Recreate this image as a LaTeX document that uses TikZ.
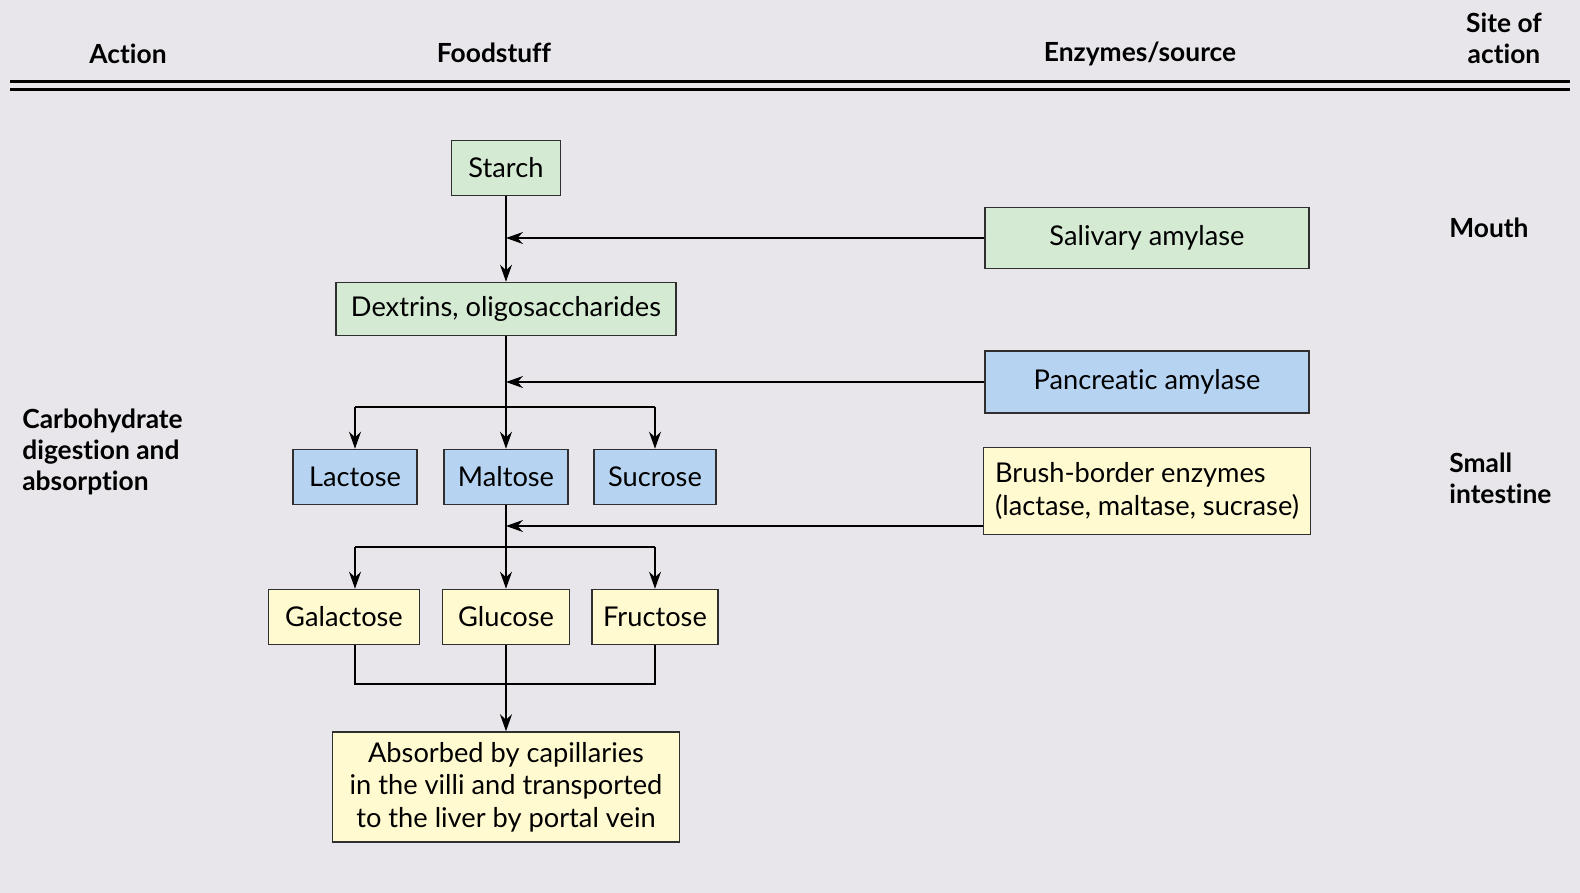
\documentclass[tikz,border=0pt]{standalone}
\usepackage{fontspec}
\setmainfont[Ligatures=NoCommon]{Lato}
\usepackage{tikz}
\usetikzlibrary{arrows.meta,positioning,calc}
\definecolor{pagegrey}{HTML}{E8E6EA}
\definecolor{boxgreen}{HTML}{D5EAD3}
\definecolor{boxblue}{HTML}{B6D3F1}
\definecolor{boxyellow}{HTML}{FFFACF}
\definecolor{edgegrey}{HTML}{2F2F2F}

\begin{document}
\begin{tikzpicture}[x=0.02cm,y=-0.02cm,
    foodbox/.style={draw=edgegrey,line width=0.9pt,inner sep=2pt,
                    font=\fontsize{15.5}{18.5}\selectfont,minimum height=1.10cm},
    greenbox/.style={foodbox,fill=boxgreen},
    bluebox/.style={foodbox,fill=boxblue},
    yellowbox/.style={foodbox,fill=boxyellow},
    headtext/.style={font=\fontsize{15}{17.5}\selectfont\bfseries,align=center},
    sidetext/.style={font=\fontsize{15}{17.5}\selectfont\bfseries,align=left,anchor=west,inner sep=0pt},
    arr/.style={line width=0.9pt,-{Stealth[length=0.34cm,width=0.24cm]}},
    plain/.style={line width=0.9pt}]

  % Background and header
  \fill[pagegrey] (0,0) rectangle (1580,893);
  \draw[line width=0.06cm] (10,81) -- (1570,81);
  \draw[line width=0.06cm] (10,89) -- (1570,89);
  \node[headtext] (hAction) at (128,54) {Action};
  \node[headtext] (hFood) at (494,53) {Foodstuff};
  \node[headtext] (hEnzyme) at (1140,54) {Enzymes/source};
  \node[headtext] (hSite) at (1504,38) {Site of\\action};

  % Foodstuff column
  \node[greenbox,minimum width=2.18cm] (starch) at (506,168) {Starch};
  \node[greenbox,minimum width=6.80cm,minimum height=1.06cm] (dextrins) at (506,309) {Dextrins, oligosaccharides};
  \node[bluebox,minimum width=2.48cm] (maltose) at (506,477) {Maltose};
  \node[bluebox,minimum width=2.48cm] (lactose) at (355,477) {Lactose};
  \node[bluebox,minimum width=2.44cm] (sucrose) at (655,477) {Sucrose};
  \node[yellowbox,minimum width=2.54cm] (glucose) at (506,617) {Glucose};
  \node[yellowbox,minimum width=3.02cm] (galactose) at (344,617) {Galactose};
  \node[yellowbox,minimum width=2.52cm] (fructose) at (655,617) {Fructose};
  \node[yellowbox,minimum width=6.94cm,minimum height=2.20cm,align=center] (absorbed) at (506,787)
    {Absorbed by capillaries\\in the villi and transported\\to the liver by portal vein};

  % Enzymes
  \node[greenbox,minimum width=6.48cm,minimum height=1.22cm] (salivary) at (1147,238) {Salivary amylase};
  \node[bluebox,minimum width=6.48cm,minimum height=1.24cm] (pancreatic) at (1147,382) {Pancreatic amylase};
  \node[yellowbox,minimum width=6.54cm,minimum height=1.74cm,align=left] (brush) at (1147,491)
    {Brush-border enzymes\\(lactase, maltase, sucrase)};

  % Labels
  \node[sidetext] (action) at (22,452) {Carbohydrate\\digestion and\\absorption};
  \node[sidetext] (mouth) at (1449,228) {Mouth};
  \node[sidetext] (smallint) at (1449,478) {Small\\intestine};

  % Connectors
  \coordinate (split1) at (506,407);
  \coordinate (split2) at (506,547);
  \coordinate (join) at (506,684);
  \coordinate (brushin) at (983,526);

  \draw[arr] (starch.south) -- (dextrins.north);
  \draw[arr] (salivary.west) -- (salivary.west -| starch.south);
  \draw[arr] (dextrins.south) -- (maltose.north);
  \draw[arr] (pancreatic.west) -- (pancreatic.west -| dextrins.south);
  \draw[arr] (split1 -| lactose.north) -- (lactose.north);
  \draw[arr] (split1 -| sucrose.north) -- (sucrose.north);
  \draw[plain] (split1 -| lactose.north) -- (split1 -| sucrose.north);

  \draw[arr] (maltose.south) -- (glucose.north);
  \draw[arr] (brushin) -- (brushin -| maltose.south);
  \draw[arr] (split2 -| lactose.north) -- (lactose.north |- galactose.north);
  \draw[arr] (split2 -| sucrose.north) -- (fructose.north);
  \draw[plain] (split2 -| lactose.north) -- (split2 -| sucrose.north);

  \draw[plain] (lactose.south |- galactose.south) -- (join -| lactose.south)
    -- (join -| sucrose.south) -- (fructose.south);
  \draw[arr] (glucose.south) -- (absorbed.north);
\end{tikzpicture}
\end{document}
